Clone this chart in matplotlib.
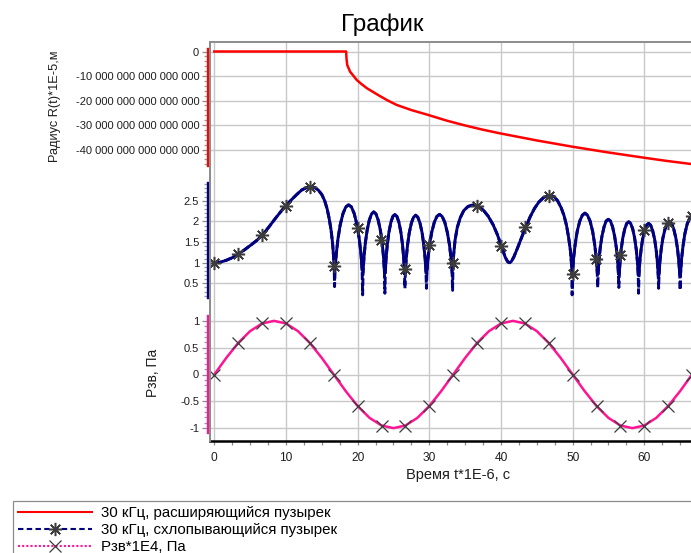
import numpy as np
import matplotlib
matplotlib.use("Agg")
import matplotlib.pyplot as plt
from matplotlib.lines import Line2D
from matplotlib.patches import Rectangle
from matplotlib.ticker import FuncFormatter, FixedLocator

plt.rcParams['font.family'] = ['Liberation Sans', 'DejaVu Sans']
plt.rcParams['axes.unicode_minus'] = False

# ---------------- data ----------------
# expanding bubble, radius R(t)*1E-5 (values in units of 1e16)
t_expand = [0, 18.40, 18.45, 18.55, 18.94, 19.87, 20.50, 21.30, 23.00, 24.20, 25.45, 27.50,
            29.86, 32.30, 34.74, 37.30, 39.86, 45.00, 49.87, 54.75, 59.86, 63.00, 66.50, 68.60]
r_expand = [0, 0, -0.30, -0.55, -0.82, -1.16, -1.32, -1.50, -1.80, -2.00, -2.18, -2.39,
            -2.59, -2.81, -3.00, -3.18, -3.34, -3.63, -3.88, -4.11, -4.33, -4.46, -4.59, -4.67]
R_UNIT = 1e16

# collapsing bubble
t_collapse = [
    0, 0.8, 1.7, 2.5, 3.35, 4.2, 5.2, 6.0, 6.75, 7.6, 8.47, 9.2, 10.0, 10.8, 11.5, 12.2, 12.9,
    13.45, 14.0, 14.5, 15.0, 15.4, 15.75, 16.05, 16.3, 16.5, 16.62, 16.7, 16.74, 16.78,
    16.86, 17.02, 17.25, 17.56, 17.96, 18.35, 18.74, 19.13, 19.52, 19.92, 20.23, 20.47, 20.62, 20.70,
    20.76, 20.89, 21.07, 21.32, 21.63, 21.94, 22.25, 22.56, 22.87, 23.18, 23.43, 23.61, 23.74, 23.80,
    23.86, 23.97, 24.14, 24.36, 24.64, 24.92, 25.20, 25.48, 25.76, 26.04, 26.26, 26.43, 26.54, 26.60,
    26.66, 26.78, 26.96, 27.20, 27.50, 27.80, 28.10, 28.40, 28.70, 29.00, 29.24, 29.42, 29.54, 29.60,
    29.67, 29.82, 30.04, 30.33, 30.70, 31.06, 31.43, 31.79, 32.16, 32.52, 32.81, 33.03, 33.18, 33.25,
    33.30, 33.40, 33.60, 33.90, 34.30, 34.80, 35.40, 36.10, 36.80, 37.50, 38.20, 38.90, 39.50, 40.10,
    40.60, 40.95, 41.20, 41.45, 41.80, 42.30, 42.90, 43.50, 44.10, 44.70, 45.30, 45.90, 46.50, 46.90,
    47.40, 47.90, 48.40, 48.80, 49.15, 49.45, 49.70, 49.85, 49.90, 49.93,
    50.00, 50.14, 50.36, 50.64, 51.00, 51.36, 51.72, 52.07, 52.43, 52.79, 53.07, 53.29, 53.43, 53.50,
    53.56, 53.68, 53.85, 54.09, 54.39, 54.68, 54.98, 55.27, 55.57, 55.86, 56.10, 56.27, 56.39, 56.45,
    56.51, 56.62, 56.78, 57.00, 57.28, 57.55, 57.83, 58.10, 58.38, 58.65, 58.87, 59.04, 59.15, 59.20,
    59.26, 59.37, 59.54, 59.76, 60.04, 60.32, 60.60, 60.88, 61.16, 61.44, 61.66, 61.83, 61.94, 62.00,
    62.06, 62.18, 62.36, 62.60, 62.90, 63.20, 63.50, 63.80, 64.10, 64.40, 64.64, 64.82, 64.94, 65.00,
    65.07, 65.20, 65.40, 65.66, 65.99, 66.32, 66.65, 66.98, 67.31, 67.64, 67.90, 68.10, 68.23, 68.30]
r_collapse = [
    1.00, 1.01, 1.06, 1.12, 1.21, 1.31, 1.44, 1.55, 1.68, 1.86, 2.06, 2.22, 2.38, 2.53, 2.65, 2.76, 2.82,
    2.84, 2.82, 2.76, 2.65, 2.50, 2.30, 2.05, 1.78, 1.48, 1.20, 0.95, 0.78, 0.42,
    0.83, 1.21, 1.57, 1.91, 2.19, 2.35, 2.40, 2.35, 2.19, 1.91, 1.57, 1.21, 0.83, 0.22,
    0.78, 1.14, 1.47, 1.78, 2.03, 2.18, 2.23, 2.18, 2.03, 1.78, 1.47, 1.14, 0.78, 0.26,
    0.77, 1.11, 1.44, 1.73, 1.98, 2.12, 2.17, 2.12, 1.98, 1.73, 1.44, 1.11, 0.77, 0.38,
    0.76, 1.10, 1.42, 1.72, 1.96, 2.10, 2.15, 2.10, 1.96, 1.72, 1.42, 1.10, 0.76, 0.38,
    0.77, 1.11, 1.44, 1.73, 1.98, 2.12, 2.17, 2.12, 1.98, 1.73, 1.44, 1.11, 0.77, 0.33,
    0.85, 1.20, 1.55, 1.85, 2.08, 2.26, 2.36, 2.40, 2.37, 2.28, 2.13, 1.92, 1.68, 1.38,
    1.13, 1.02, 1.00, 1.03, 1.14, 1.35, 1.62, 1.88, 2.12, 2.32, 2.47, 2.57, 2.62, 2.63,
    2.60, 2.50, 2.33, 2.14, 1.90, 1.60, 1.28, 0.95, 0.75, 0.22,
    0.78, 1.12, 1.45, 1.76, 2.01, 2.15, 2.20, 2.15, 2.01, 1.76, 1.45, 1.12, 0.78, 0.40,
    0.74, 1.06, 1.36, 1.64, 1.87, 2.01, 2.05, 2.01, 1.87, 1.64, 1.36, 1.06, 0.74, 0.40,
    0.72, 1.03, 1.33, 1.60, 1.82, 1.95, 1.99, 1.95, 1.82, 1.60, 1.33, 1.03, 0.72, 0.26,
    0.71, 1.01, 1.30, 1.57, 1.78, 1.91, 1.95, 1.91, 1.78, 1.57, 1.30, 1.01, 0.71, 0.38,
    0.72, 1.03, 1.33, 1.60, 1.82, 1.95, 1.99, 1.95, 1.82, 1.60, 1.33, 1.03, 0.72, 0.34,
    0.76, 1.09, 1.40, 1.70, 1.94, 2.07, 2.12, 2.07, 1.94, 1.70, 1.40, 1.09, 0.76, 0.30]

# marker positions on the collapsing-bubble curve
t_collapse_mark = [0, 3.33, 6.67, 10.0, 13.33, 16.67, 20.0, 23.33, 26.67, 30.0, 33.33,
                   36.67, 40.0, 43.33, 46.67, 50.0, 53.33, 56.67, 60.0, 63.33, 66.67]
r_collapse_mark = [1.00, 1.22, 1.66, 2.37, 2.83, 0.92, 1.84, 1.56, 0.85, 1.42, 1.00,
                   2.37, 1.40, 1.86, 2.62, 0.72, 1.08, 1.18, 1.80, 1.97, 2.12]

# acoustic pressure Pзв*1E4
t_pressure = [0.000, 1.667, 3.333, 5.000, 6.667, 8.333, 10.000, 11.667, 13.333, 15.000,
              16.667, 18.333, 20.000, 21.667, 23.333, 25.000, 26.667, 28.333, 30.000, 31.667,
              33.333, 35.000, 36.667, 38.333, 40.000, 41.667, 43.333, 45.000, 46.667, 48.333,
              50.000, 51.667, 53.333, 55.000, 56.667, 58.333, 60.000, 61.667, 63.333, 65.000,
              66.667, 68.333]
p_pressure = [0.000, 0.309, 0.588, 0.809, 0.951, 1.000, 0.951, 0.809, 0.588, 0.309,
              0.000, -0.309, -0.588, -0.809, -0.951, -1.000, -0.951, -0.809, -0.588, -0.309,
              0.000, 0.309, 0.588, 0.809, 0.951, 1.000, 0.951, 0.809, 0.588, 0.309,
              0.000, -0.309, -0.588, -0.809, -0.951, -1.000, -0.951, -0.809, -0.588, -0.309,
              0.000, 0.309]

labels = ["30 кГц, расширяющийся пузырек", "30 кГц, схлопывающийся пузырек", "Рзв*1E4, Па"]
title = "График"

RED = "#FF0000"
NAVY = "#000080"
PINK = "#FF1493"
MARK = "#3c3c3c"
GRID = "#c8c8c8"
TXT = "#1e1e1e"

# ---------------- figure ----------------
W, H = 691, 553
fig = plt.figure(figsize=(W / 100, H / 100), dpi=100)

def fx(px):
    return px / W

def fy(py):
    return 1 - py / H

x_left_px, x_right_px = 209.7, 706
panel_px = [(42, 175), (175, 308), (308, 441)]
axes = []
for top, bot in panel_px:
    ax = fig.add_axes([fx(x_left_px), fy(bot), fx(x_right_px - x_left_px), (bot - top) / H])
    axes.append(ax)
ax1, ax2, ax3 = axes

xlim = (-0.642, 68.61)
for ax in axes:
    ax.set_xlim(*xlim)
    ax.set_facecolor("none")
    ax.xaxis.set_major_locator(FixedLocator([0, 10, 20, 30, 40, 50, 60, 70]))
    ax.xaxis.set_minor_locator(FixedLocator(np.arange(0, 70.1, 2.5)))
    ax.grid(True, which="major", color=GRID, lw=1.0)
    ax.set_axisbelow(True)
    for s in ["top", "right", "bottom"]:
        ax.spines[s].set_visible(False)
    ax.spines["left"].set_position(("outward", 1.5))
    ax.spines["left"].set_linewidth(1.7)
    ax.tick_params(axis="y", which="major", length=4.5, width=0.9, color="#8a8a8a",
                   labelsize=8.0, pad=1.6, labelcolor=TXT)
    ax.tick_params(axis="y", which="minor", length=2.8, width=0.9, color="#9a9a9a")

for ax in (ax1, ax2):
    ax.tick_params(axis="x", which="both", length=0, labelbottom=False)

# top panel: expanding bubble
r_exp = np.array(r_expand) * R_UNIT
ax1.plot(t_expand, r_exp, color=RED, lw=1.8, solid_joinstyle="round")
ax1.set_ylim(-5.04e16, 0.388e16)
ax1.set_yticks([0, -1e16, -2e16, -3e16, -4e16])
ax1.yaxis.set_minor_locator(FixedLocator(np.arange(-4.6e16, 0.05e16, 0.2e16)))
ax1.yaxis.set_major_formatter(FuncFormatter(lambda v, p: f"{v:,.0f}".replace(",", " ")))
ax1.spines["left"].set_color(RED)
ax1.spines["left"].set_bounds(-4.67e16, 0.1e16)
ax1.spines["top"].set_visible(True)
ax1.spines["top"].set_color("#8c8c8c")
ax1.spines["top"].set_linewidth(1.4)

# middle panel: collapsing bubble
tc = np.array(t_collapse)
rc = np.array(r_collapse)
ax2.plot(tc, rc, color=NAVY, lw=2.1, ls=(0, (2.6, 1.0)))
ax2.plot(tc, np.where(rc >= 0.7, rc, np.nan), color=NAVY, lw=2.1, solid_joinstyle="round")
ax2.plot(t_collapse_mark, r_collapse_mark, ls="none", marker=(8, 2, 0), ms=9.5,
         mec=MARK, mew=1.1, zorder=5)
ax2.set_ylim(-0.097, 3.123)
ax2.set_yticks([0.5, 1, 1.5, 2, 2.5])
ax2.yaxis.set_minor_locator(FixedLocator(np.arange(0.2, 2.95, 0.1)))
ax2.yaxis.set_major_formatter(FuncFormatter(lambda v, p: f"{v:g}"))
ax2.spines["left"].set_color(NAVY)
ax2.spines["left"].set_bounds(0.145, 2.93)

# bottom panel: acoustic pressure
ax3.plot(t_pressure, p_pressure, color=PINK, lw=1.8, marker="x", markevery=2, ms=8.5,
         mec=MARK, mew=0.9)
ax3.set_ylim(-1.24, 1.24)
ax3.set_yticks([-1, -0.5, 0, 0.5, 1])
ax3.yaxis.set_minor_locator(FixedLocator(np.arange(-1.0, 1.05, 0.1)))
ax3.yaxis.set_major_formatter(FuncFormatter(lambda v, p: f"{v:g}"))
ax3.spines["left"].set_color(PINK)
ax3.spines["left"].set_bounds(-1.093, 1.093)
ax3.spines["bottom"].set_visible(True)
ax3.spines["bottom"].set_color("black")
ax3.spines["bottom"].set_linewidth(1.8)
ax3.tick_params(axis="x", which="both", length=3, width=0.9, color="#8a8a8a",
                labelsize=8.6, pad=5.0, labelcolor=TXT)
ax3.set_xlabel("Время t*1E-6, с", fontsize=10.5, color=TXT, labelpad=3)

# gray left axis line
fig.add_artist(Line2D([fx(x_left_px)] * 2, [fy(42), fy(441)], transform=fig.transFigure,
                      color="#8a8a8a", lw=1.4))

# axis titles
fig.text(fx(55), fy(106), "Радиус R(t)*1E-5,м", rotation=90, ha="center", va="center",
         fontsize=9.2, color=TXT)
fig.text(fx(153), fy(373), "Рзв, Па", rotation=90, ha="center", va="center",
         fontsize=10, color=TXT)
fig.text(fx(382), fy(25), title, ha="center", va="center", fontsize=17.5, color="black")

# legend
handles = [
    Line2D([], [], color=RED, lw=1.5),
    Line2D([], [], color=NAVY, lw=1.5, ls=(0, (2.6, 1.6)), marker=(8, 2, 0), ms=9.5,
           mec=MARK, mew=1.1),
    Line2D([], [], color=PINK, lw=1.5, ls=(0, (1, 1)), marker="x", ms=8.5, mec=MARK, mew=0.9),
]
fig.legend(handles, labels, loc="upper left", bbox_to_anchor=(fx(12.7), fy(501)),
           frameon=False, fontsize=10.85, handlelength=4.9, handletextpad=0.65,
           labelspacing=0.2, borderpad=0.33, borderaxespad=0)
fig.add_artist(Rectangle((fx(12.7), fy(560)), fx(700 - 12.7), (560 - 501) / H,
                         transform=fig.transFigure, fill=False, ec="#8c8c8c", lw=0.9))

fig.savefig("out.png", dpi=100)
